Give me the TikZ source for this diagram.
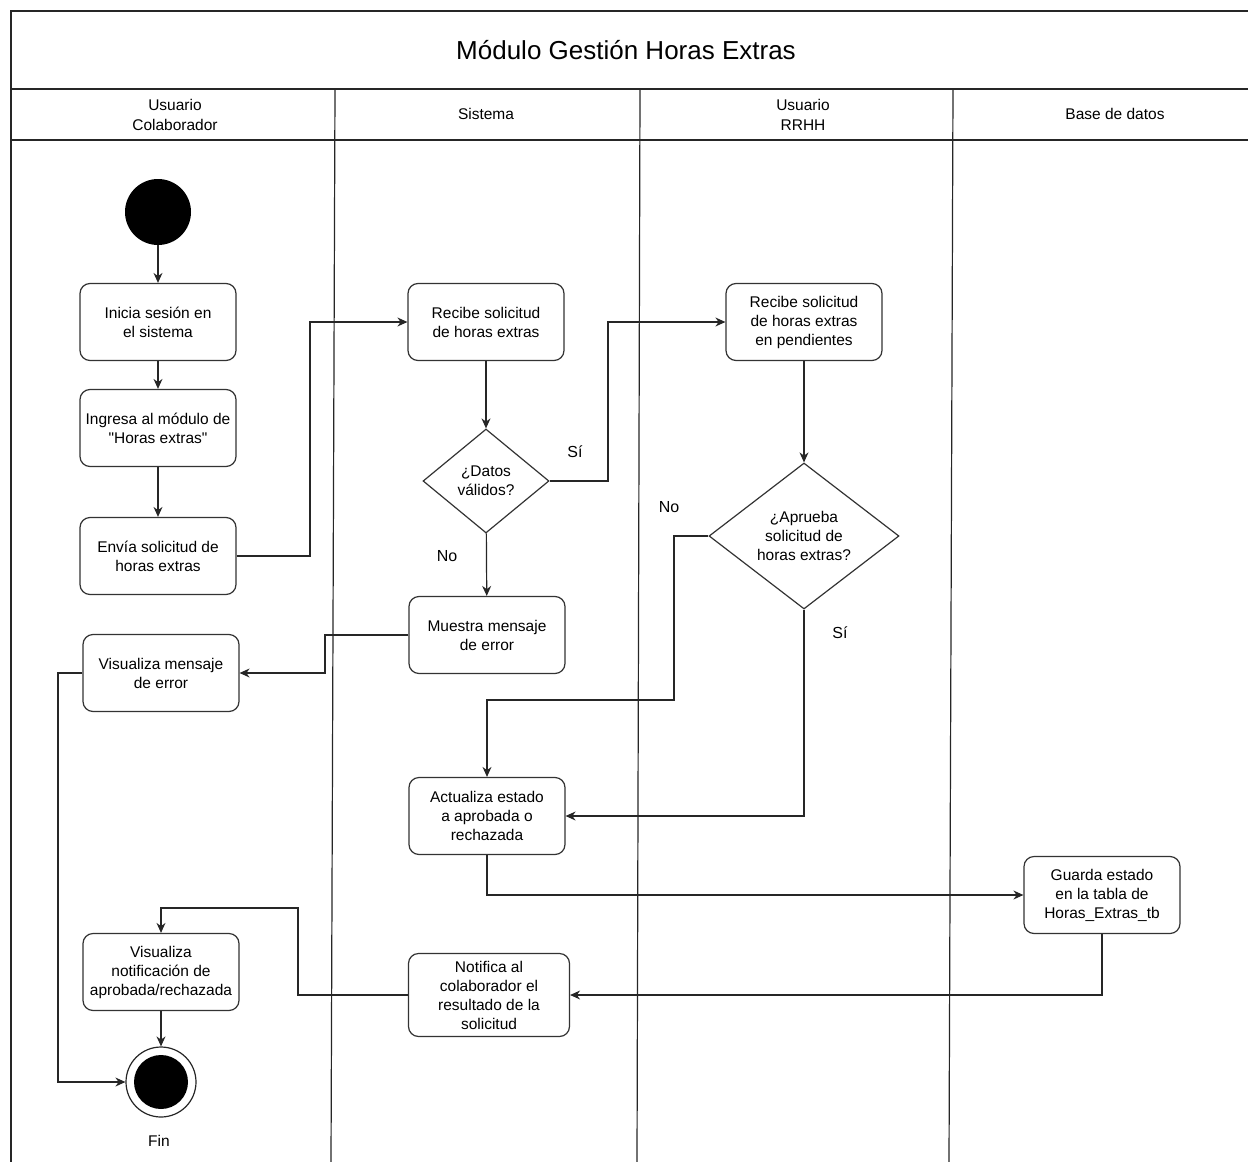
\documentclass[tikz,border=0pt]{standalone}
\usepackage{fontspec}
\setmainfont{Liberation Sans}[Ligatures=TeXOff]
\usetikzlibrary{shapes.geometric,arrows.meta}

\begin{document}
\begin{tikzpicture}[x=1pt, y=-1pt,
    activity/.style={draw=black!80, line width=1.2pt, rounded corners=10pt,
        minimum width=156pt, minimum height=77pt, inner sep=2pt, align=center,
        font=\fontsize{15.5}{19}\selectfont},
    decision/.style={draw=black!80, line width=1.2pt, diamond, inner sep=0pt,
        align=center, font=\fontsize{15.5}{19}\selectfont},
    flow/.style={draw=black!85, line width=1.2pt, -{Stealth[length=10pt,width=9pt]}},
    lane/.style={draw=black!85, line width=1.2pt},
    laneTitle/.style={align=center, font=\fontsize{15.5}{20}\selectfont},
    guard/.style={font=\fontsize{16}{18}\selectfont}]
    \useasboundingbox (0,0) rectangle (1248,1162);

    % Pool frame and lanes
    \draw[lane] (1248,11) -- (11,11) -- (11,1162);
    \draw[lane] (11,89) -- (1248,89);
    \draw[lane] (11,140) -- (1248,140);
    \draw[lane] (335,89) -- (331,1162);
    \draw[lane] (640,89) -- (637,1162);
    \draw[lane] (953,89) -- (949,1162);
    \node[font=\fontsize{26}{30}\selectfont] (poolTitle) at (626,50) {Módulo Gestión Horas Extras};
    \node[laneTitle] (laneColab) at (175,115) {Usuario\\Colaborador};
    \node[laneTitle] (laneSistema) at (486,114) {Sistema};
    \node[laneTitle] (laneRRHH) at (803,115) {Usuario\\RRHH};
    \node[laneTitle] (laneBD) at (1115,114) {Base de datos};

    % Usuario Colaborador
    \node[circle, fill=black, minimum size=66pt, inner sep=0pt] (inicio) at (158,212) {};
    \node[activity] (inicia) at (158,322) {Inicia sesión en\\el sistema};
    \node[activity] (ingresa) at (158,428) {Ingresa al módulo de\\"Horas extras"};
    \node[activity] (envia) at (158,556) {Envía solicitud de\\horas extras};
    \node[activity] (verError) at (161,673) {Visualiza mensaje\\de error};
    \node[activity] (verNotif) at (161,972) {Visualiza\\notificación de\\aprobada/rechazada};
    \node[circle, draw=black!85, line width=1.2pt, fill=white, minimum size=70pt, inner sep=0pt] (fin) at (161,1082) {};
    \node[circle, fill=black, minimum size=54pt, inner sep=0pt] (finCentro) at (fin) {};
    \node[laneTitle] (finLabel) at (159,1141) {Fin};

    % Sistema
    \node[activity] (recibe) at (486,322) {Recibe solicitud\\de horas extras};
    \node[decision, minimum width=126pt, minimum height=104pt] (datos) at (486,481) {¿Datos\\válidos?};
    \node[activity] (muestra) at (487,635) {Muestra mensaje\\de error};
    \node[activity] (actualiza) at (487,816) {Actualiza estado\\a aprobada o\\rechazada};
    \node[activity, minimum width=161pt, minimum height=83pt] (notifica) at (489,995) {Notifica al\\colaborador el\\resultado de la\\solicitud};

    % Usuario RRHH
    \node[activity] (pendiente) at (804,322) {Recibe solicitud\\de horas extras\\en pendientes};
    \node[decision, minimum width=190pt, minimum height=146pt] (aprueba) at (804,536) {¿Aprueba\\solicitud de\\horas extras?};

    % Base de datos
    \node[activity] (guarda) at (1102,895) {Guarda estado\\en la tabla de\\Horas\_Extras\_tb};

    % Flows
    \draw[flow] (inicio) -- (inicia);
    \draw[flow] (inicia) -- (ingresa);
    \draw[flow] (ingresa) -- (envia);
    \draw[flow] (envia.east) -- (310,556) |- (recibe.west);
    \draw[flow] (recibe) -- (datos);
    \draw[flow] (datos.east) -- (608,481) |- (pendiente.west);
    \node[guard] (siDatos) at (575,452) {Sí};
    \draw[flow] (datos) -- (muestra);
    \node[guard] (noDatos) at (447,556) {No};
    \draw[flow] (muestra.west) -- (325,635) |- (verError.east);
    \draw[flow] (verError.west) -- (58,673) |- (fin.west);
    \draw[flow] (pendiente) -- (aprueba);
    \draw[flow] (aprueba.west) -- (674,536) -- (674,700) -| (actualiza.north);
    \node[guard] (noAprueba) at (669,507) {No};
    \draw[flow] (aprueba.south) |- (actualiza.east);
    \node[guard] (siAprueba) at (840,633) {Sí};
    \draw[flow] (actualiza.south) |- (guarda.west);
    \draw[flow] (guarda.south) |- (notifica.east);
    \draw[flow] (notifica.west) -- (298,995) -- (298,908) -| (verNotif.north);
    \draw[flow] (verNotif) -- (fin);
\end{tikzpicture}
\end{document}
